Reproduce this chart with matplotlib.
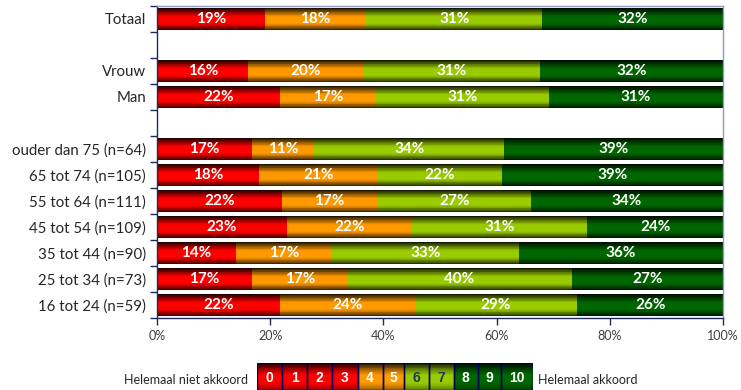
import numpy as np
import matplotlib.pyplot as plt
from matplotlib.colors import to_rgb

plt.rcParams['font.family'] = ['Lato', 'DejaVu Sans']

# rows top to bottom, empty strings are spacer rows
rows = ['Totaal', '', 'Vrouw', 'Man', '',
        'ouder dan 75 (n=64)', '65 tot 74 (n=105)', '55 tot 64 (n=111)',
        '45 tot 54 (n=109)', '35 tot 44 (n=90)', '25 tot 34 (n=73)',
        '16 tot 24 (n=59)']

# score groups 0-3, 4-5, 6-7, 8-10 (percent)
score_0_3 = [19, None, 16, 22, None, 17, 18, 22, 23, 14, 17, 22]
score_4_5 = [18, None, 20, 17, None, 11, 21, 17, 22, 17, 17, 24]
score_6_7 = [31, None, 31, 31, None, 34, 22, 27, 31, 33, 40, 29]
score_8_10 = [32, None, 32, 31, None, 39, 39, 34, 24, 36, 27, 26]

legend_scores = ['0', '1', '2', '3', '4', '5', '6', '7', '8', '9', '10']

red = '#ff0000'
orange = '#ff9900'
lgreen = '#99cc00'
dgreen = '#006600'
navy = '#1f2a5c'
group_colors = [red, orange, lgreen, dgreen]
legend_colors = [red] * 4 + [orange] * 2 + [lgreen] * 2 + [dgreen] * 3
legend_text = ['white'] * 6 + ['#1f3864'] * 2 + ['white'] * 3
legend_widths = [25, 25, 25, 25.6, 25, 21.7, 24.3, 25, 24, 23.4, 32]


def shade(ax, patch, color, top=0.4, bottom=0.3, d_top=0.92, d_bot=0.8,
          n=30):
    # redraw a bar as thin strips, darker towards the top and bottom edge
    t = (np.arange(n) + 0.5) / n
    dark = np.zeros(n)
    m = t < top
    dark[m] = d_top * (1 - t[m] / top) ** 1.1
    m = t > 1 - bottom
    dark[m] = d_bot * (1 - (1 - t[m]) / bottom) ** 1.1
    if not ax.yaxis_inverted():
        dark = dark[::-1]
    rgb = np.array(to_rgb(color))
    cols = [tuple(rgb * (1 - d)) for d in dark]
    x0, y0 = patch.get_x(), patch.get_y()
    w, h = patch.get_width(), patch.get_height()
    ys = y0 + h * t
    ax.barh(ys, w, left=x0, height=h / n * 1.05, color=cols,
            linewidth=0, zorder=patch.get_zorder() + 0.5)


fig = plt.figure(figsize=(7.41, 3.90), dpi=100)
ax = fig.add_axes([157 / 741, 72 / 390, 566 / 741, 312 / 390])
ax.set_ylim(len(rows) - 0.5, -0.5)

groups = [score_0_3, score_4_5, score_6_7, score_8_10]
for i, name in enumerate(rows):
    if not name:
        continue
    vals = [g[i] for g in groups]
    total = sum(vals)
    left = 0.0
    for v, c in zip(vals, group_colors):
        frac = v / total
        bar = ax.barh(i, frac, left=left, height=0.86, color=c, zorder=2)[0]
        shade(ax, bar, c)
        ax.text(left + frac / 2, i, f'{v}%', ha='center', va='center',
                color='white', fontsize=11, fontweight='bold', zorder=4)
        left += frac

ax.set_xlim(0, 1)
ax.set_ylim(len(rows) - 0.5, -0.5)

ax.set_xticks(np.linspace(0, 1, 6))
ax.set_xticklabels([f'{p}%' for p in range(0, 101, 20)])
ax.set_yticks(np.arange(len(rows) + 1) - 0.5)
ax.set_yticklabels([])
ax.set_yticks(np.arange(len(rows)), minor=True)
ax.set_yticklabels(rows, minor=True)
ax.tick_params(axis='y', which='major', length=5, width=1, color=navy)
ax.tick_params(axis='y', which='minor', length=0, pad=8, labelsize=10.8,
               labelcolor='#262626')
ax.tick_params(axis='x', length=5, width=1, color=navy, labelsize=9,
               labelcolor='#404040', pad=4)

ax.spines['left'].set_color(navy)
ax.spines['bottom'].set_color(navy)
ax.spines['top'].set_color('#8e9cc4')
ax.spines['right'].set_color('#8e9cc4')
for s in ax.spines.values():
    s.set_linewidth(1)

# score legend
lax = fig.add_axes([257 / 741, 0, sum(legend_widths) / 741, 27 / 390])
lax.set_xlim(0, sum(legend_widths))
lax.set_ylim(0, 1)
left = 0.0
for lab, w, c, tc in zip(legend_scores, legend_widths, legend_colors,
                         legend_text):
    box = lax.bar(left, 1, width=w, align='edge', color=c,
                  edgecolor='none', zorder=2)[0]
    shade(lax, box, c, top=0.45, bottom=0.3, d_top=0.85, d_bot=0.35)
    lax.bar(left, 1, width=w, align='edge', fill=False,
            edgecolor='#000060', linewidth=1, zorder=3.5)
    lax.text(left + w / 2, 0.45, lab, ha='center', va='center', color=tc,
             fontsize=10, fontweight='bold', family=['Liberation Sans'],
             zorder=4)
    left += w
lax.set_xlim(0, sum(legend_widths))
lax.set_ylim(0, 1)
lax.axis('off')

fig.text(248 / 741, 10 / 390, 'Helemaal niet akkoord', ha='right',
         va='center', fontsize=9, color='#262626')
fig.text(538 / 741, 10 / 390, 'Helemaal akkoord', ha='left',
         va='center', fontsize=9, color='#262626')

fig.savefig('out.png', dpi=100)
